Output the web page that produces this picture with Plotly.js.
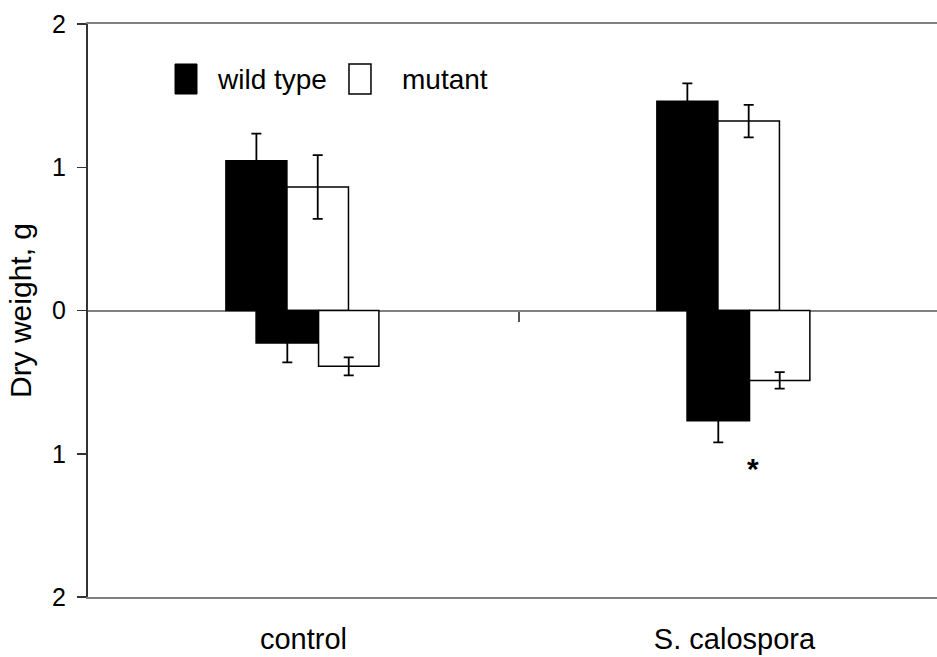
<!DOCTYPE html>
<html>
<head>
<meta charset="utf-8">
<script src="https://cdn.plot.ly/plotly-3.0.1.min.js"></script>
<style>html,body{margin:0;padding:0;background:#fff;}#chart{width:937px;height:657px;}</style>
</head>
<body>
<div id="chart"></div>
<script>
// ---- data ----
var categories = ['control', 'S. calospora'];
var seriesNames = ['wild type', 'mutant'];
// above zero (shoot) and below zero (root) dry weights, g
var upperWildType = [1.045, 1.461];
var upperWildTypeErr = [0.19, 0.124];
var upperMutant = [0.862, 1.322];
var upperMutantErr = [0.223, 0.114];
var lowerWildType = [-0.227, -0.769];
var lowerWildTypeErr = [0.135, 0.151];
var lowerMutant = [-0.390, -0.488];
var lowerMutantErr = [0.063, 0.058];
var yTickVals = [-2, -1, 0, 1, 2];
var yTickText = ['2', '1', '0', '1', '2'];
var sigLabel = '*';
var sigCategoryIndex = 1;
var sigValue = -1.1;

var FONT = 'Arial, "Liberation Sans", sans-serif';

function barTrace(y, err, color, offset, width, name) {
  return {
    type: 'bar', x: categories, y: y, name: name,
    offset: offset, width: width,
    marker: {color: color, line: {color: '#000', width: 1.5}},
    error_y: {type: 'data', array: err, visible: true, color: '#000', thickness: 1.8, width: 5},
    showlegend: false, hoverinfo: 'x+y'
  };
}

var data = [
  barTrace(upperWildType, upperWildTypeErr, '#000', -0.18, 0.1415, seriesNames[0]),
  barTrace(upperMutant, upperMutantErr, '#fff', -0.0383, 0.1427, seriesNames[1]),
  barTrace(lowerWildType, lowerWildTypeErr, '#000', -0.110, 0.145, seriesNames[0]),
  barTrace(lowerMutant, lowerMutantErr, '#fff', 0.035, 0.140, seriesNames[1]),
  {type: 'scatter', x: [0.5], y: [0], xaxis: 'x2', mode: 'none', showlegend: false, hoverinfo: 'skip'}
];

var layout = {
  width: 937, height: 657,
  margin: {l: 88, r: 0, t: 24, b: 60, pad: 0},
  paper_bgcolor: '#fff', plot_bgcolor: '#fff',
  barmode: 'overlay',
  font: {family: FONT, color: '#000'},
  xaxis: {
    type: 'category', range: [-0.5, 1.47],
    showline: true, mirror: true, linecolor: '#808080', linewidth: 2,
    showgrid: false, zeroline: false,
    ticks: '', ticklabelstandoff: 15,
    tickfont: {family: FONT, size: 29, color: '#000'}
  },
  xaxis2: {
    overlaying: 'x', anchor: 'free', position: 0.5, side: 'bottom',
    range: [-0.5, 1.47], showline: false, showgrid: false, zeroline: false,
    tickvals: [0.5], ticks: 'outside', ticklen: 10, tickwidth: 1.5, tickcolor: '#555',
    showticklabels: false
  },
  yaxis: {
    range: [-2, 2], tickvals: yTickVals, ticktext: yTickText,
    showline: true, linecolor: '#333', linewidth: 2,
    showgrid: false,
    zeroline: true, zerolinecolor: '#808080', zerolinewidth: 2,
    ticks: 'outside', ticklen: 9, tickwidth: 1.5, tickcolor: '#333',
    ticklabelstandoff: 6,
    tickfont: {family: FONT, size: 25, color: '#000'},
    title: {text: 'Dry weight, g', font: {family: FONT, size: 30, color: '#000'}, standoff: 12}
  },
  shapes: [
    {type: 'rect', xref: 'paper', yref: 'paper', x0: 0.1025, x1: 0.1284, y0: 0.8778, y1: 0.9302,
     fillcolor: '#000', line: {color: '#000', width: 1}},
    {type: 'rect', xref: 'paper', yref: 'paper', x0: 0.3074, x1: 0.3333, y0: 0.8778, y1: 0.9302,
     fillcolor: '#fff', line: {color: '#000', width: 1.5}}
  ],
  annotations: [
    {xref: 'paper', yref: 'paper', x: 0.1496, y: 0.9023, xanchor: 'left', yanchor: 'middle',
     text: seriesNames[0], showarrow: false, font: {family: FONT, size: 28, color: '#000'}},
    {xref: 'paper', yref: 'paper', x: 0.3675, y: 0.9023, xanchor: 'left', yanchor: 'middle',
     text: seriesNames[1], showarrow: false, font: {family: FONT, size: 28, color: '#000'}},
    {xref: 'x', yref: 'y', x: sigCategoryIndex + 0.043, y: sigValue, xanchor: 'center', yanchor: 'middle',
     text: '<b>' + sigLabel + '</b>', showarrow: false, font: {family: FONT, size: 30, color: '#000'}}
  ]
};

Plotly.newPlot('chart', data, layout, {displayModeBar: false, staticPlot: true});
</script>
</body>
</html>
